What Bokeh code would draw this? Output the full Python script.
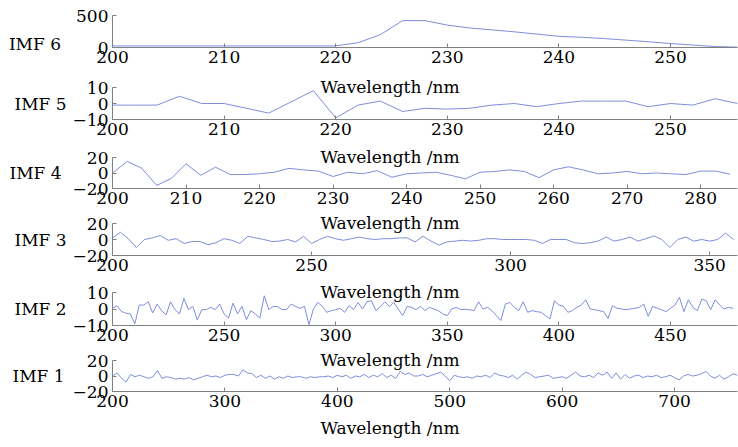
from bokeh.plotting import figure
from bokeh.layouts import column
from bokeh.models import Title, FixedTicker, Range1d
from bokeh.embed import file_html
from bokeh.resources import INLINE

# ---------------- data ----------------
x_label = "Wavelength /nm"
names = ["IMF 6", "IMF 5", "IMF 4", "IMF 3", "IMF 2", "IMF 1"]

imf6_x = list(range(200, 257, 2))
imf6_y = [25, 25, 25, 25, 25, 25, 25, 25, 25, 25,
          25, 75, 200, 420, 420, 350, 305, 275, 245, 210,
          175, 160, 140, 115, 90, 62, 38, 15, 5]
imf6_xmax = 256
imf6_xticks = [200, 210, 220, 230, 240, 250]
imf6_yticks = [0, 500]

imf5_x = list(range(200, 257, 2))
imf5_y = [-1, -1, -1, 4.5, 0, 0, -3, -6, 1, 8,
          -9, -1, 1.5, -5, -3, -3.5, -3, -1, 0, -2,
          0, 1.5, 1.5, 1.5, -2, 0, -1, 3, 0]
imf5_xmax = 256
imf5_xticks = [200, 210, 220, 230, 240, 250]
imf5_yticks = [-10, 0, 10]

imf4_x = list(range(200, 285, 2))
imf4_y = [0, 15, 6, -16, -7, 12, -3, 7.5, -2, -2,
          -1, 1, 6, 4, 2.5, -4.5, 1, -1, 3, -5.5,
          -1, 0, 1, -3, -7.5, 1, 2, 4, 2, -6,
          4, 8, 4, -1, 0, 2, -1, 0, -1, -2,
          2.5, 2.5, -1.5]
imf4_xmax = 285
imf4_xticks = [200, 210, 220, 230, 240, 250, 260, 270, 280]
imf4_yticks = [-20, 0, 20]

imf3_x = list(range(200, 357, 2))
imf3_y = [2, 9, 1, -10, 0, 2, 5, -1, 1, -5,
          -2.5, -2.5, -6.5, -4, 1, -1, -5, 4, 2, 0,
          -2.5, -2, 0, -3, 4, -5, 0, 4, 1, -1,
          1, 3, 1, 0, 1, 1, 2, 2, -3, 4,
          -2, -7, -3, -2, -1, -2, -1, 1, 1, 0,
          0, 0, 0, -1, -5, 0, 0, 0, -4, -5,
          -4, -2, 3, -2, 0, 3, -2, 1, 4.5, 0,
          -10, 0, 3, -2, 0, -2, 0, 8, 0]
imf3_xmax = 357
imf3_xticks = [200, 250, 300, 350]
imf3_yticks = [-20, 0, 20]

imf2_x = list(range(200, 479, 2))
imf2_y = [0.4, 2, -1.5, -2.5, -3, -9, 2.4, 2.4, 4.4, -2.4,
          3, -1, -3.6, 4.4, -0.4, -3, 6.4, -0.4, 1.6, -6.7,
          -0.4, -0.4, 1, -0.4, 3, -3, -5.5, 3.6, -3, 1.6,
          -6.5, -1, -3, -5.5, 8, -0.4, 1.6, 1.5, -0.4, -0.4,
          3, 1.6, 0.4, 1.6, -9.5, 0, 4, 1.6, -2, -1,
          -0.4, 0.4, -2, 2, -0.4, 4, 0, 4.4, 5, -1,
          1.5, 4.4, 1.6, 4, 0, -4, 1.5, 1, -0.4, 1.6,
          -1, 1, 0, -1, -3, -4, 0, 1, -0.4, -0.2,
          -0.5, -1, 4.4, 0, 1, -1, -4, -7, 3, 4,
          1, -1, 4.4, -2, -1, -1.6, -2, -4, -6, 5,
          2.4, 1.6, -2, -1, 1, 2.4, 5.6, 0, -0.4, -1,
          -1.6, -5.7, 2, 0.5, 0, -0.4, 0, 0.4, 1, 3,
          -4.4, 1.6, 0.5, -0.5, -1.6, 0.4, 2.4, 7, -1.6, 5.6,
          1, -1, 6, 5, -0.4, 5.6, 2.4, 0, 1, 0.4]
imf2_xmax = 480
imf2_xticks = [200, 250, 300, 350, 400, 450]
imf2_yticks = [-10, 0, 10]

imf1_x = list(range(200, 757, 4))
imf1_y = [0, 4, -3, -8, 2, -1, 1, -1, -3, -1,
          7, -3, -1, -2, -4, -3, -4, -2, -5, -3,
          -1, 1, -1, 0, -2, 1, 2, 2, 0, 8,
          4, 3, -2, 1, -3, 0, -4, -1, -3, 0,
          -2, -1, -1, -3, -1, -2, -1, -1, 0, -2,
          1, -1, 1, -3, 0, -1, 2, -2,
          1, -1, 3, -2, 1, -3, 6, 2, 4, 0,
          0, 2, -1, 1, 3, 5, 0, -6, 1, -1,
          -2, -1, -3, 0, -1, 1, -2, 4, 1, 0,
          -2, 1, -4, 1, 5, 2, -2, -1, 0, 1,
          -3, -2, -1, -3, 1, 5, 0, -1, 1, -2,
          4, 1, 5, -3, 4, -4, 2, -3, 0, 1,
          -2, 0, -1, 1, -2, -1, 1, -2, -5, 0,
          2, 0, 1, 3, 6, 0, -3, 1, -4, -1,
          3, 1]
imf1_xmax = 756
imf1_xticks = [200, 300, 400, 500, 600, 700]
imf1_yticks = [-20, 0, 20]

# ---------------- style ----------------
FONT = "DejaVu Serif"
FS = "17px"
LINE = "#7d8edc"
AXIS = "#808080"
WL_OFFSET = 208   # left edge of the x-axis title, from the frame's left


def tick_text(v):
    return str(v).replace("-", "\u2212")


def panel(name, xs, ys, xmax, xticks, yticks, height, top, bottom, ylab_standoff):
    p = figure(width=738, height=height,
               x_range=Range1d(200, xmax), y_range=Range1d(yticks[0], yticks[-1]),
               output_backend="svg", toolbar_location=None,
               min_border_left=112, min_border_right=1,
               min_border_top=top, min_border_bottom=bottom)
    p.outline_line_color = None
    p.xgrid.visible = False
    p.ygrid.visible = False
    p.line(xs, ys, line_color=LINE, line_width=1)
    for ax in (p.xaxis[0], p.yaxis[0]):
        ax.axis_line_color = AXIS
        ax.major_tick_line_color = AXIS
        ax.minor_tick_line_color = None
        ax.major_tick_in = 4
        ax.major_tick_out = 0
        ax.major_label_text_font = FONT
        ax.major_label_text_font_size = FS
        ax.major_label_text_color = "black"
    xa = p.xaxis[0]
    xa.ticker = FixedTicker(ticks=xticks)
    xa.major_label_standoff = 3
    ya = p.yaxis[0]
    ya.ticker = FixedTicker(ticks=yticks)
    ya.major_label_overrides = {t: tick_text(t) for t in yticks}
    ya.major_label_standoff = 4
    ya.axis_label = name
    ya.axis_label_orientation = "horizontal"
    ya.axis_label_text_font = FONT
    ya.axis_label_text_font_size = FS
    ya.axis_label_text_font_style = "normal"
    ya.axis_label_text_color = "black"
    ya.axis_label_standoff = ylab_standoff
    return p


def wl_title(standoff, valign):
    return Title(text=x_label, align="left", offset=WL_OFFSET, standoff=standoff,
                 vertical_align=valign, text_font=FONT, text_font_size=FS,
                 text_font_style="normal", text_color="black")


p6 = panel(names[0], imf6_x, imf6_y, imf6_xmax, imf6_xticks, imf6_yticks, 74, 15, 27, 12)
p5 = panel(names[1], imf5_x, imf5_y, imf5_xmax, imf5_xticks, imf5_yticks, 70, 13, 25, 3)
p4 = panel(names[2], imf4_x, imf4_y, imf4_xmax, imf4_xticks, imf4_yticks, 68, 13, 24, 8)
p3 = panel(names[3], imf3_x, imf3_y, imf3_xmax, imf3_xticks, imf3_yticks, 70, 11, 27, 3)
p2 = panel(names[4], imf2_x, imf2_y, imf2_xmax, imf2_xticks, imf2_yticks, 69, 10, 26, 3)
p1 = panel(names[5], imf1_x, imf1_y, imf1_xmax, imf1_xticks, imf1_yticks, 96, 9, 54, 5)

# the top panel's name sits a line lower than its frame centre
p6.yaxis[0].axis_label = "\n" + names[0]

# x-axis title of each upper panel: it overlaps the top of the panel below
for p in (p5, p4, p3, p2, p1):
    p.add_layout(wl_title(-18, "bottom"), "above")

# x-axis title of the bottom panel
p1.add_layout(wl_title(16, "top"), "below")

layout = column(p6, p5, p4, p3, p2, p1, spacing=0)
open("out.html", "w").write(file_html(layout, INLINE))
